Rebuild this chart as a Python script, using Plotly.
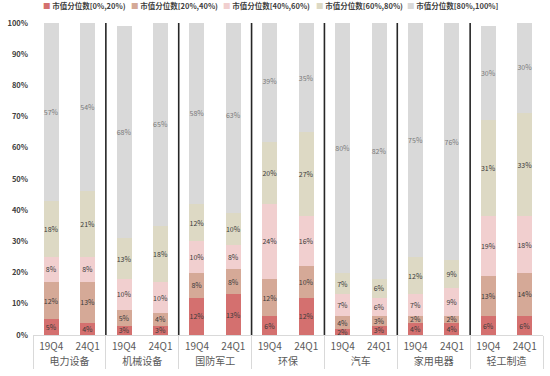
import plotly.graph_objects as go

industries = ["电力设备", "机械设备", "国防军工", "环保", "汽车", "家用电器", "轻工制造"]
periods = ["19Q4", "24Q1"]
series_names = ["市值分位数[0%,20%)", "市值分位数[20%,40%)", "市值分位数[40%,60%)",
                "市值分位数[60%,80%)", "市值分位数[80%,100%]"]

# values per bar in order: 电力设备19Q4, 电力设备24Q1, 机械设备19Q4, ...
q0_20 = [5, 4, 3, 3, 12, 13, 6, 12, 2, 3, 4, 4, 6, 6]
q20_40 = [12, 13, 5, 4, 8, 8, 12, 10, 4, 3, 2, 2, 13, 14]
q40_60 = [8, 8, 10, 10, 10, 8, 24, 16, 7, 6, 7, 9, 19, 18]
q60_80 = [18, 21, 13, 18, 12, 10, 20, 27, 7, 6, 12, 9, 31, 33]
q80_100 = [57, 54, 68, 65, 58, 63, 39, 35, 80, 82, 75, 76, 30, 30]

series_values = [q0_20, q20_40, q40_60, q60_80, q80_100]
colors = ["#D4706F", "#D5A997", "#F1CFCF", "#DDD9C4", "#D9D9D9"]
text_colors = ["#3a3a3a", "#3a3a3a", "#3a3a3a", "#3a3a3a", "#7a7a7a"]

font_family = "Noto Sans CJK SC, Noto Sans, sans-serif"

x_groups = [g for g in industries for _ in periods]
x_periods = [p for _ in industries for p in periods]

fig = go.Figure()
for name, vals, col, tcol in zip(series_names, series_values, colors, text_colors):
    fig.add_trace(go.Bar(
        x=[x_groups, x_periods],
        y=vals,
        name=name,
        marker=dict(color=col, line=dict(width=0)),
        width=0.41,
        text=[f"{v}%" for v in vals],
        textposition="inside",
        insidetextanchor="middle",
        textangle=0,
        constraintext="none",
        textfont=dict(size=7, color=tcol, family=font_family),
        showlegend=False,
        hoverinfo="skip",
    ))

# group separators (between industries)
n_bars = len(x_periods)
shapes = []
for k in range(1, len(industries)):
    xf = (k * len(periods)) / n_bars
    shapes.append(dict(type="line", xref="paper", yref="paper", x0=xf, x1=xf, y0=0, y1=1.0,
                       line=dict(color="#262626", width=1.6)))

# legend drawn as annotations
plot_left, plot_w = 25, 518
legend_px = [33, 123, 216, 310, 403]
annotations = []
for name, col, px in zip(series_names, colors, legend_px):
    annotations.append(dict(
        xref="paper", yref="paper", x=(px - plot_left) / plot_w, y=1.055,
        xanchor="left", yanchor="middle", showarrow=False,
        text=f"<span style='color:{col}'>■</span> {name}",
        font=dict(size=7.5, color="#404040", family=font_family, weight="bold"),
    ))

fig.update_layout(
    width=550, height=376,
    barmode="stack",
    bargap=0.59,
    margin=dict(l=25, r=7, t=23, b=41),
    plot_bgcolor="white", paper_bgcolor="white",
    shapes=shapes,
    annotations=annotations,
    font=dict(family=font_family, color="#595959"),
)
fig.update_yaxes(
    range=[0, 100], dtick=10, ticksuffix="%",
    showgrid=False, zeroline=False, showline=False,
    tickfont=dict(size=7.5, color="#404040", family=font_family, weight="bold"),
    ticklabelstandoff=4,
)
fig.update_xaxes(
    type="multicategory",
    showline=True, linecolor="#D9D9D9", linewidth=1,
    showdividers=True, dividercolor="#D9D9D9", dividerwidth=1,
    tickfont=dict(size=10, color="#595959", family=font_family),
    ticklabelstandoff=2,
    showgrid=False,
)

fig.write_html("out.html", config={"displayModeBar": False},
               post_script="document.body.style.margin='0';")
